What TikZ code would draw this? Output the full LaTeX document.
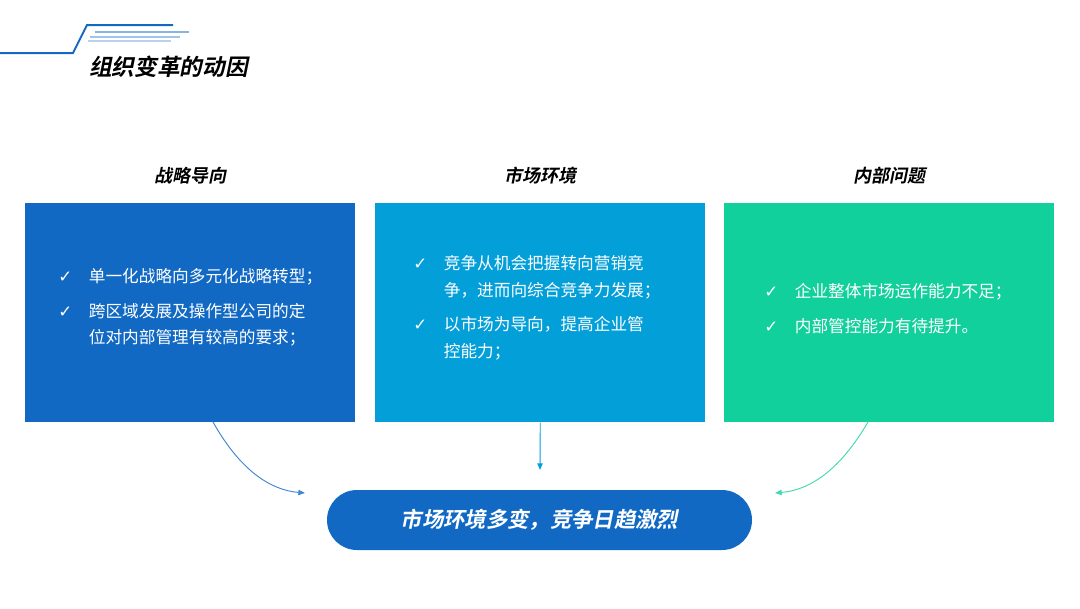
\documentclass[tikz,border=0pt]{standalone}
\usepackage{fontspec}
\setmainfont{Noto Sans CJK SC}
\newfontfamily\cjkb[FakeSlant=0.2]{Noto Sans CJK SC Bold}
\newfontfamily\dv{DejaVu Sans}
\usetikzlibrary{arrows.meta}
\definecolor{cA}{HTML}{1169C4}
\definecolor{cB}{HTML}{039FD8}
\definecolor{cC}{HTML}{12D09C}
\begin{document}
\begin{tikzpicture}[x=0.75pt,y=-0.75pt,
 box/.style={minimum width=330*0.75pt,minimum height=219*0.75pt,inner sep=0,anchor=north west},
 head/.style={font=\cjkb\fontsize{13.5}{15}\selectfont},
 txt/.style={text=white,font=\fontsize{12.5}{20}\selectfont,align=left,anchor=north west,inner sep=0},
 arr/.style={-{Triangle[length=5pt,width=4pt]},line width=0.7pt}]
\useasboundingbox (0,0) rectangle (1080,608);
\fill[white] (0,0) rectangle (1080,608);
\draw[line width=1.5pt,cA] (0,53) -- (73,53) -- (87,25) -- (173,25);
\draw[line width=0.8pt,cA!50] (95,32) -- (189,32);
\draw[line width=0.8pt,cA!40] (90,37) -- (180,37);
\draw[line width=0.8pt,cA!30] (88,41) -- (171,41);
\node[anchor=west,inner sep=0,font=\cjkb\fontsize{17}{20}\selectfont] (title) at (89,67) {组织变革的动因};

\node[head] (h1) at (190,176) {战略导向};
\node[head] (h2) at (540,176) {市场环境};
\node[head] (h3) at (889,176) {内部问题};

\node[box,fill=cA] (b1) at (25,203) {};
\node[box,fill=cB] (b2) at (375,203) {};
\node[box,fill=cC] (b3) at (724,203) {};

\node[txt] (t1) at (58,268) {{\dv ✓}\quad 单一化战略向多元化战略转型；\\[6pt]
{\dv ✓}\quad 跨区域发展及操作型公司的定\\\phantom{{\dv ✓}\quad }位对内部管理有较高的要求；};
\node[txt] (t2) at (413,255) {{\dv ✓}\quad 竞争从机会把握转向营销竞\\\phantom{{\dv ✓}\quad }争，进而向综合竞争力发展；\\[6pt]
{\dv ✓}\quad 以市场为导向，提高企业管\\\phantom{{\dv ✓}\quad }控能力；};
\node[txt] (t3) at (764,283) {{\dv ✓}\quad 企业整体市场运作能力不足；\\[6pt]
{\dv ✓}\quad 内部管控能力有待提升。};

\node[fill=cA,rounded corners=30*0.75pt,minimum width=425*0.75pt,minimum height=60*0.75pt,text=white,font=\cjkb\fontsize{16}{18}\selectfont] (p) at (539.5,520) {市场环境多变，竞争日趋激烈};

\coordinate (l) at (305,493); \coordinate (r) at (775,493);
\draw[arr,cA!80] (213,422) .. controls (240,470) and (270,490) .. (l);
\draw[arr,cB] (b2.south) -- (540,470);
\draw[arr,cC!80] (868,422) .. controls (840,470) and (810,490) .. (r);
\end{tikzpicture}
\end{document}
